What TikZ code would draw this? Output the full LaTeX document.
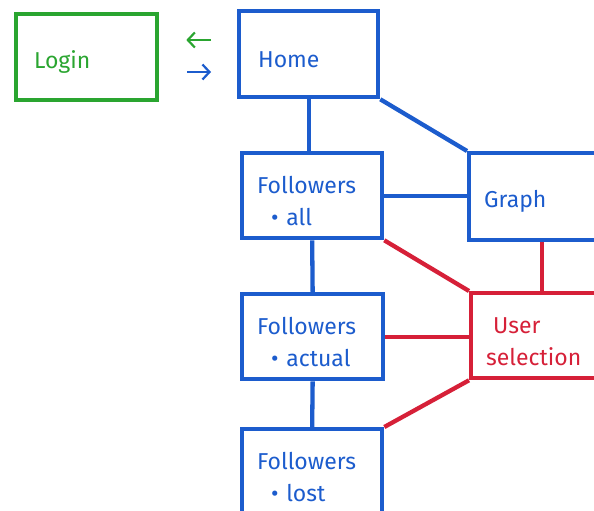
\documentclass[tikz,border=0pt]{standalone}
\usepackage{fontspec}
\setmainfont{Fira Sans}
\usetikzlibrary{arrows.meta}
\usetikzlibrary{positioning}
\definecolor{sblue}{RGB}{28, 92, 205}
\definecolor{sgreen}{RGB}{42, 165, 48}
\definecolor{sred}{RGB}{214, 32, 56}
\tikzset{screen/.style = {draw, line width=4.3pt, anchor=north west, align=left,
                          inner xsep=15pt, text height=27pt, font=\fontsize{23}{32}\selectfont},
         link/.style = {line width=4.3pt},
         hop/.style = {line width=2.2pt, -{Straight Barb[length=7pt, width=15pt]}}}
\newcommand{\bulletline}[1]{\hspace*{14pt}\textbullet\ #1}

\begin{document}
\begin{tikzpicture}[x=1pt, y=-1pt]
      \useasboundingbox (0, 0) rectangle (594, 511);
      \clip (0, 0) rectangle (594, 511);

      \node [screen, sgreen, minimum width=141pt, minimum height=86pt, text width=105pt, inner xsep=18pt] (login) at (14, 12) {Login};
      \node [screen, sblue, minimum width=139pt, minimum height=86pt, text width=101pt, inner xsep=19pt] (home) at (237, 9) {Home};
      \node [screen, sblue, minimum width=140pt, minimum height=85pt, text width=110pt] (fall) at (240, 151) {Followers\\\bulletline{all}};
      \node [screen, sblue, minimum width=146pt, minimum height=87pt, text width=116pt] (graph) at (467, 151) {Graph};
      \node [screen, sblue, minimum width=141pt, minimum height=85pt, text width=111pt] (factual) at (240, 292) {Followers\\\bulletline{actual}};
      \node [screen, sred, minimum width=150pt, minimum height=85pt, text width=120pt, inner xsep=12pt] (usersel) at (469, 291) {\hspace*{7pt}User\\selection};
      \node [screen, sblue, minimum width=140pt, minimum height=86pt, text width=110pt] (flost) at (240, 427) {Followers\\\bulletline{lost}\\[-8pt]};

      \coordinate (back) at (0, 40);
      \coordinate (forth) at (0, 72);
      \draw [hop, sgreen] (home.west |- back) -- (login.east |- back) [shorten <=26pt, shorten >=27pt];
      \draw [hop, sblue] (login.east |- forth) -- (home.west |- forth) [shorten <=28pt, shorten >=26pt];

      \draw [link, sblue] (home.south) -- (home.south |- fall.north);
      \draw [link, sblue] (home.south east) -- (graph.north west);
      \draw [link, sblue] (fall.east) -- (fall.east -| graph.west);
      \draw [link, sblue] (fall.south) -- (factual.north);
      \draw [link, sblue] (factual.south) -- (flost.north);

      \draw [link, sred] (fall.south east) -- (usersel.north west);
      \draw [link, sred] (graph.south) -- (graph.south |- usersel.north);
      \draw [link, sred] (factual.east) -- (factual.east -| usersel.west);
      \draw [link, sred] (usersel.south west) -- (flost.north east);
    \end{tikzpicture}
\end{document}
